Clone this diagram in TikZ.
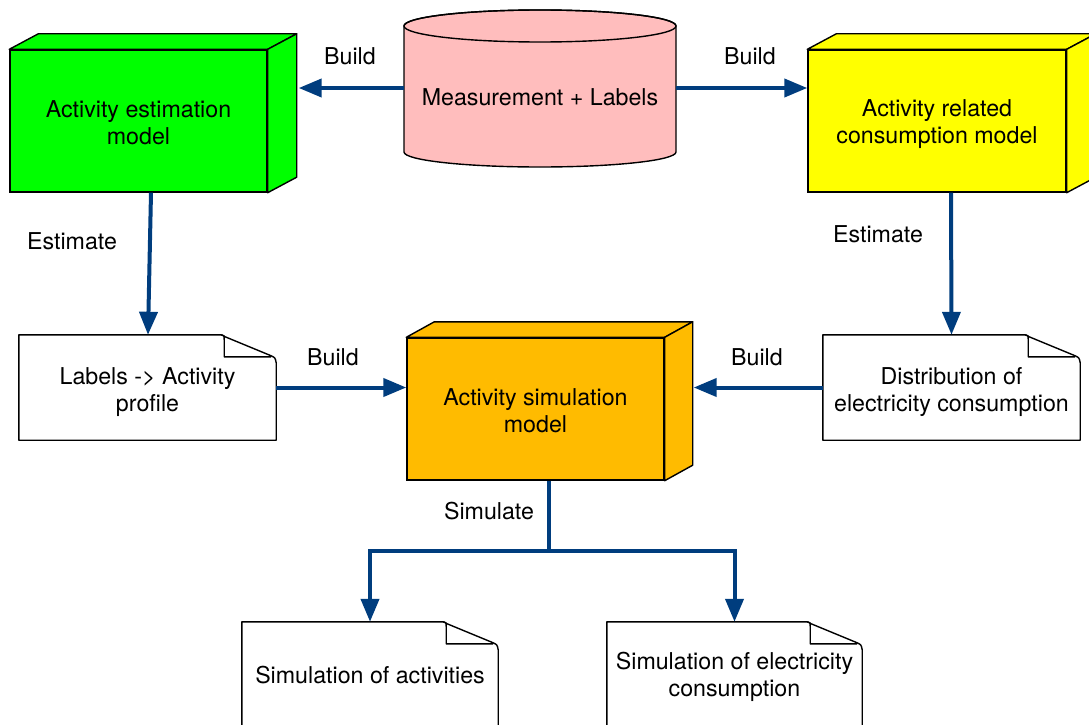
\documentclass[tikz,border=0pt]{standalone}
\usepackage{fontspec}
\setmainfont{TeX Gyre Heros}
\usetikzlibrary{arrows.meta,calc}
\definecolor{arrblue}{RGB}{0,61,126}
\definecolor{cgreen}{RGB}{0,255,0}
\definecolor{cyellow}{RGB}{255,255,0}
\definecolor{corange}{RGB}{255,187,0}
\definecolor{cpink}{RGB}{255,189,189}
\tikzset{
  every node/.style={font=\fontsize{23.2}{27}\selectfont, align=center, inner sep=0pt},
  front/.style={draw, line width=1.4pt, minimum width=257pt, minimum height=142pt},
  docbox/.style={minimum width=257pt, minimum height=105pt},
  outl/.style={draw=black, line width=1.4pt, line join=round},
  arr/.style={draw=arrblue, line width=4pt, -{Triangle[length=23pt,width=18pt]}},
  lbl/.style={text=black}
}
\newcommand{\boxfaces}[3]{%
  \filldraw[outl, fill=#2] (#1.north west) -- ([xshift=#3pt,yshift=15.5pt]#1.north west) -- ([xshift=#3pt,yshift=15.5pt]#1.north east) -- (#1.north east) -- cycle;
  \filldraw[outl, fill=#2] (#1.north east) -- ([xshift=#3pt,yshift=15.5pt]#1.north east) -- ([xshift=#3pt,yshift=15.5pt]#1.south east) -- (#1.south east) -- cycle;
}
\newcommand{\docpage}[1]{%
  \filldraw[outl, fill=white] (#1.north west) -- ([xshift=-58pt]#1.north east)
    .. controls ([xshift=-54pt]#1.north east) .. ([xshift=-51pt,yshift=-2pt]#1.north east)
    -- ([xshift=-5pt,yshift=-21pt]#1.north east)
    .. controls ([xshift=-1pt,yshift=-23pt]#1.north east) .. ([yshift=-28pt]#1.north east)
    -- (#1.south east) -- (#1.south west) -- cycle;
  \draw[outl] ([xshift=-55pt]#1.north east) .. controls ([xshift=-52pt,yshift=-0.5pt]#1.north east) .. ([xshift=-52pt,yshift=-5pt]#1.north east)
    -- ([xshift=-52pt,yshift=-22pt]#1.north east) -- ([xshift=-5pt,yshift=-22pt]#1.north east);
}
\begin{document}
\begin{tikzpicture}[x=1pt,y=-1pt]
\useasboundingbox (0,0) rectangle (1089,725);

% 3D boxes
\node[front, fill=cgreen] (ae) at (138.5,121) {};
\boxfaces{ae}{cgreen}{29}
\node[front, fill=cyellow, minimum width=258pt] (yr) at (937,121) {};
\boxfaces{yr}{cyellow}{29}
\node[front, fill=corange] (asm) at (535.5,409) {};
\boxfaces{asm}{corange}{28}
\node (aet) at ([yshift=-1.5pt]ae.center) {Activity estimation\\model};
\node (yrt) at ([yshift=-3pt]yr.center) {Activity related\\consumption model};
\node (asmt) at ([yshift=-2pt]asm.center) {Activity simulation\\model};

% cylinder
\filldraw[outl, fill=cpink] (404,26) -- (404,152)
  arc[start angle=180, end angle=360, x radius=136pt, y radius=15pt]
  -- (676,26)
  arc[start angle=0, end angle=180, x radius=136pt, y radius=16pt] -- cycle;
\draw[outl] (540,26) ellipse [x radius=136pt, y radius=16pt];
\node[minimum width=272pt] (db) at (540,97) {Measurement + Labels};

% documents
\node[docbox] (la) at (147.5,387.5) {};
\docpage{la}
\node (lat) at ([yshift=-4.5pt]la.center) {Labels -> Activity\\profile};
\node[docbox] (dist) at (951.5,387.5) {};
\docpage{dist}
\node (distt) at ([yshift=-4.5pt]dist.center) {Distribution of\\electricity consumption};
\node[docbox, minimum width=256pt] (sa) at (370,674.5) {};
\docpage{sa}
\node (sat) at ([yshift=-0.5pt]sa.center) {Simulation of activities};
\node[docbox, minimum width=255pt] (se) at (734.5,674.5) {};
\docpage{se}
\node (set) at ([yshift=-2.5pt]se.center) {Simulation of electricity\\consumption};

% helper coordinates
\coordinate (dbL) at ([yshift=9pt]db.west);
\coordinate (dbR) at ([yshift=9pt]db.east);
\coordinate (aeR) at ([xshift=29pt]ae.east);
\coordinate (asmR) at ([xshift=28pt]asm.east);
\coordinate (asmS) at ([xshift=13.5pt]asm.south);
\coordinate (junc) at (549,551);

% connectors
\draw[arr] (dbL) -- ([xshift=2pt]dbL -| aeR);
\draw[arr] (dbR) -- (dbR -| yr.west);
\draw[arr] ([xshift=12.5pt]ae.south) -- ([xshift=0.5pt]la.north);
\draw[arr] ([xshift=14pt]yr.south) -- (dist.north);
\draw[arr] (la.east) -- (la.east -| asm.west);
\draw[arr] (dist.west) -- ([xshift=1pt]dist.west -| asmR);
\draw[draw=arrblue, line width=4pt] (asmS) -- (junc);
\draw[arr] (junc) -| (sa.north);
\draw[arr] (junc) -| (se.north);

% labels
\node[lbl] (b1) at (350,56) {Build};
\node[lbl] (b2) at (750,56) {Build};
\node[lbl] (b3) at (333,357) {Build};
\node[lbl] (b4) at (757,357) {Build};
\node[lbl] (e1) at (72,241) {Estimate};
\node[lbl] (e2) at (878,234) {Estimate};
\node[lbl] (s1) at (489,511) {Simulate};
\end{tikzpicture}
\end{document}
